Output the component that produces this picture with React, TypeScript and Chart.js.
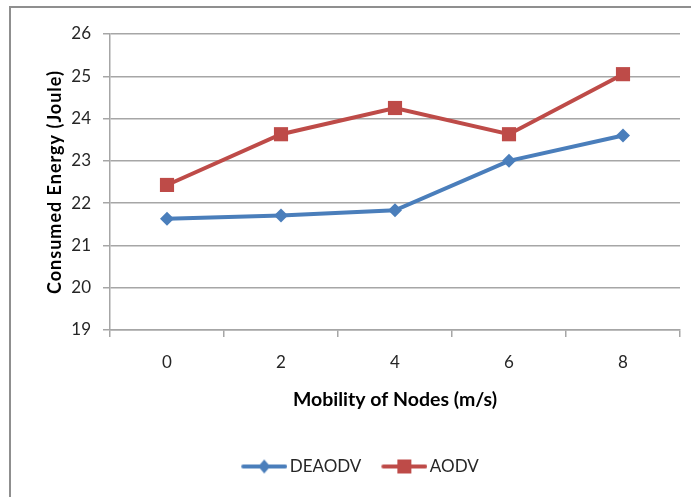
import React, { useEffect, useRef } from "react";
import { Chart, registerables } from "chart.js";

Chart.register(...registerables);

const categories = ["0", "2", "4", "6", "8"];
const deaodvValues = [21.63, 21.71, 21.83, 23.0, 23.6];
const aodvValues = [22.43, 23.63, 24.25, 23.63, 25.05];
const yMin = 19;
const yMax = 26;
const seriesNames = ["DEAODV", "AODV"];
const xTitle = "Mobility of Nodes (m/s)";
const yTitle = "Consumed Energy (Joule)";

const BLUE = "#4a7ebb";
const RED = "#be4b48";
const FONT = "Lato, 'Open Sans', 'DejaVu Sans', sans-serif";

function legendImage(color: string, style: "diamond" | "square"): HTMLCanvasElement {
  const c = document.createElement("canvas");
  c.width = 52;
  c.height = 18;
  const g = c.getContext("2d")!;
  g.strokeStyle = color;
  g.lineWidth = 4;
  g.lineCap = "round";
  g.beginPath();
  g.moveTo(8, 9);
  g.lineTo(50, 9);
  g.stroke();
  g.fillStyle = color;
  const cx = 29;
  if (style === "diamond") {
    g.beginPath();
    g.moveTo(cx, 2);
    g.lineTo(cx + 6, 9);
    g.lineTo(cx, 16);
    g.lineTo(cx - 6, 9);
    g.closePath();
    g.fill();
  } else {
    g.fillRect(cx - 7, 2, 14, 14);
  }
  return c;
}

const borderPlugin = {
  id: "outerBorder",
  beforeDraw(chart: any) {
    const ctx = chart.ctx;
    ctx.save();
    ctx.strokeStyle = "#8f8f8f";
    ctx.lineWidth = 2;
    ctx.beginPath();
    ctx.moveTo(10, chart.height + 2);
    ctx.lineTo(10, 7);
    ctx.lineTo(chart.width + 2, 7);
    ctx.stroke();
    ctx.restore();
    const s = chart.scales.y;
    if (s && !s._lsPatched) {
      const orig = s.drawTitle;
      s.drawTitle = function () {
        const c = this.ctx;
        c.save();
        (c as any).letterSpacing = "1px";
        orig.call(this);
        c.restore();
      };
      s._lsPatched = true;
    }
  },
};

export default function App() {
  const ref = useRef<HTMLCanvasElement>(null);
  useEffect(() => {
    if (!ref.current) return;
    const imgs = [legendImage(BLUE, "diamond"), legendImage(RED, "square")];
    const chart = new Chart(ref.current, {
      type: "line",
      data: {
        labels: categories,
        datasets: [
          {
            label: seriesNames[0],
            data: deaodvValues,
            borderColor: BLUE,
            backgroundColor: BLUE,
            borderWidth: 4,
            pointStyle: "rectRot",
            pointRadius: 7,
            pointBorderWidth: 0,
            pointBackgroundColor: BLUE,
            tension: 0,
          },
          {
            label: seriesNames[1],
            data: aodvValues,
            borderColor: RED,
            backgroundColor: RED,
            borderWidth: 4,
            pointStyle: "rect",
            pointRadius: 10,
            pointBorderWidth: 0,
            pointBackgroundColor: RED,
            tension: 0,
          },
        ],
      },
      options: {
        responsive: false,
        animation: false,
        layout: { padding: { left: 40, right: 11, top: 34, bottom: 12 } },
        plugins: {
          tooltip: { enabled: false },
          legend: {
            position: "bottom",
            labels: {
              usePointStyle: true,
              pointStyleWidth: 40,
              padding: 20,
              color: "#262626",
              font: { family: FONT, size: 17 },
              generateLabels(chart: any) {
                const items = Chart.defaults.plugins.legend.labels.generateLabels(chart);
                items.forEach((it: any, i: number) => {
                  it.pointStyle = imgs[i];
                });
                return items;
              },
            },
          },
        },
        scales: {
          x: {
            type: "category",
            offset: true,
            afterFit(s: any) {
              s.height = 108;
            },
            grid: {
              offset: true,
              drawOnChartArea: false,
              drawTicks: true,
              tickLength: 7,
              color: "#a6a6a6",
              lineWidth: 1.5,
            },
            border: { display: true, color: "#a6a6a6", width: 1.5 },
            ticks: {
              padding: 15.8,
              color: "#262626",
              font: { family: FONT, size: 17 },
            },
            title: {
              display: true,
              text: xTitle,
              color: "#000",
              font: { family: FONT, size: 19.5, weight: "bold" },
              padding: { top: 0, bottom: 26.3 },
            },
          },
          y: {
            min: yMin,
            max: yMax,
            afterFit(s: any) {
              s.width = 70;
            },
            ticks: {
              stepSize: 1,
              padding: 12,
              color: "#262626",
              font: { family: FONT, size: 17 },
            },
            grid: {
              drawTicks: true,
              tickLength: 7,
              color: "#a6a6a6",
              lineWidth: 1.5,
            },
            border: { display: true, color: "#a6a6a6", width: 1.5 },
            title: {
              display: true,
              text: yTitle,
              color: "#000",
              font: { family: FONT, size: 18, weight: "bold" },
              padding: { top: 4, bottom: 0 },
            },
          },
        },
      },
      plugins: [borderPlugin],
    });
    return () => chart.destroy();
  }, []);
  return (
    <canvas
      ref={ref}
      width={691}
      height={497}
      style={{ position: "absolute", left: 0, top: 0, display: "block" }}
    />
  );
}
